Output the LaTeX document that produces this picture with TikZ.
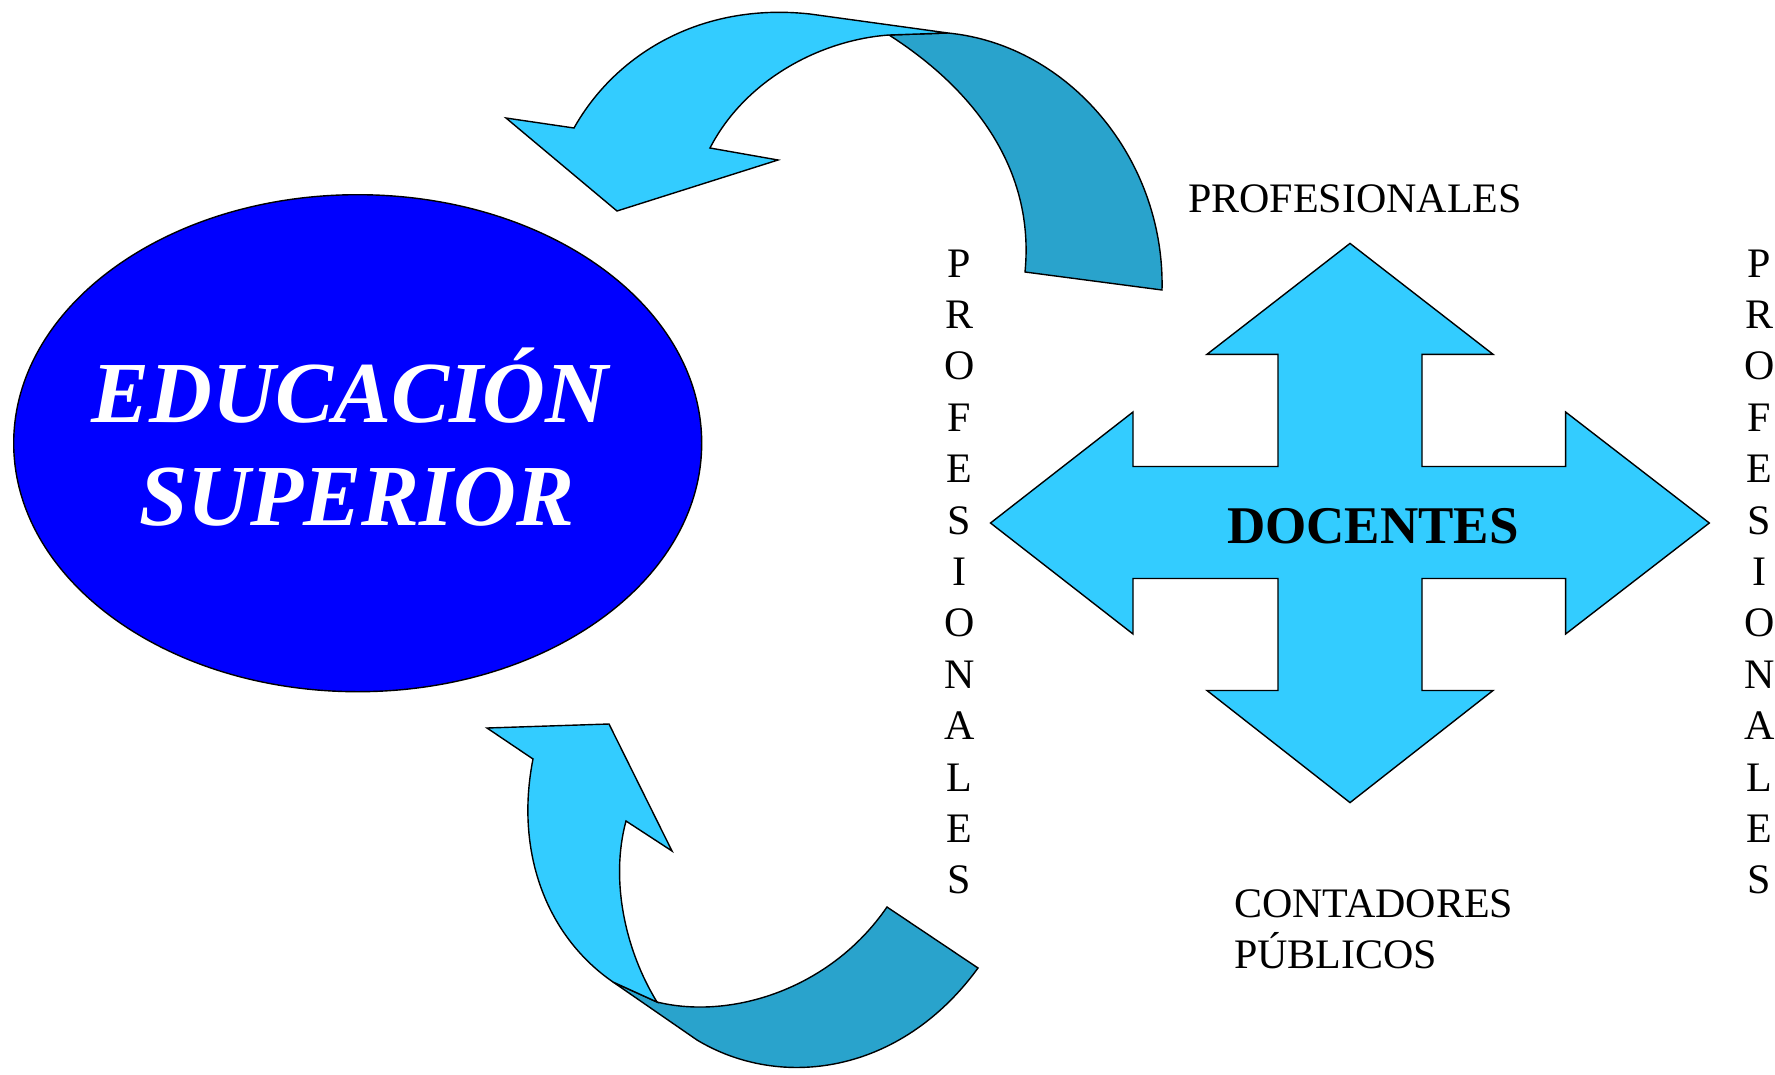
\documentclass[tikz,border=0pt]{standalone}
\usepackage{fontspec}
\setmainfont{Liberation Serif}
\usetikzlibrary{shapes.geometric}
\definecolor{lightc}{RGB}{51,204,255}
\definecolor{darkc}{RGB}{41,163,204}
\definecolor{eblue}{RGB}{0,0,255}
\begin{document}
\begin{tikzpicture}[x=1pt,y=-1pt,
  outl/.style={draw=black, line width=1.4pt, line join=miter},
  txt/.style={inner sep=0pt, font=\fontsize{42}{51}\selectfont},
  bigtxt/.style={inner sep=0pt, text=white, font=\fontsize{87}{100}\selectfont\bfseries\itshape},
  doctxt/.style={inner sep=0pt, font=\fontsize{53}{60}\selectfont\bfseries}]
\useasboundingbox (0,0) rectangle (1775,1074);

% ellipse
\node[ellipse, outl, fill=eblue, minimum width=688pt, minimum height=497pt, inner sep=0pt] (ell) at (357.7,443.2) {};
\node[bigtxt, anchor=base] (edu1) at (350,422) {EDUCACIÓN};
\node[bigtxt, anchor=base] (edu2) at (357,525) {SUPERIOR};

% top curved arrow: back (dark) face
\filldraw[outl, fill=darkc] (889,35) -- (948,33)
  .. controls (1070,45) and (1165,160) .. (1162,290)
  -- (1025,272)
  .. controls (1035,170) and (975,90) .. (889,35)
  -- cycle;
% top curved arrow: front (light) face
\filldraw[outl, fill=lightc] (617,211) -- (506,118) -- (574,128)
  .. controls (615,55) and (700,2) .. (810,14)
  -- (948,33) -- (889,35)
  .. controls (820,40) and (745,80) .. (710,148)
  -- (778,160) -- cycle;

% bottom curved arrow: back (dark) face
\filldraw[outl, fill=darkc] (613,982) -- (697,1040)
  .. controls (780,1090) and (900,1075) .. (978,968)
  -- (887,907)
  .. controls (830,990) and (730,1020) .. (657,1002)
  -- cycle;
% bottom curved arrow: front (light) face
\filldraw[outl, fill=lightc] (487,728) -- (609,724) -- (672,851) -- (626,821)
  .. controls (610,880) and (625,950) .. (657,1002)
  -- (613,982)
  .. controls (545,935) and (515,850) .. (533,759)
  -- cycle;

% four-way arrow
\filldraw[outl, fill=lightc] (1350,243.4) -- (1493,354.3) -- (1422,354.3) -- (1422,466.5)
  -- (1565.6,466.5) -- (1565.6,412) -- (1709.3,523) -- (1565.6,634) -- (1565.6,578.5)
  -- (1422,578.5) -- (1422,690.5) -- (1493,690.5) -- (1350,802.6) -- (1207,690.5)
  -- (1278,690.5) -- (1278,578.5) -- (1133,578.5) -- (1133,634) -- (990.5,523)
  -- (1133,412) -- (1133,466.5) -- (1278,466.5) -- (1278,354.3) -- (1207,354.3) -- cycle;
\node[doctxt, anchor=base] (doc) at (1373,543) {DOCENTES};

% labels
\node[txt, anchor=base] (proftop) at (1355,212) {PROFESIONALES};
\node[txt, anchor=base west] (cont) at (1234,917) {CONTADORES};
\node[txt, anchor=base west] (pub) at (1234,968) {PÚBLICOS};
\foreach \l [count=\i from 0] in {P,R,O,F,E,S,I,O,N,A,L,E,S} {
  \node[txt, anchor=base] (pl\i) at (959.5,277+51.4*\i) {\l};
  \node[txt, anchor=base] (pr\i) at (1759.5,277+51.4*\i) {\l};
}
\end{tikzpicture}
\end{document}
